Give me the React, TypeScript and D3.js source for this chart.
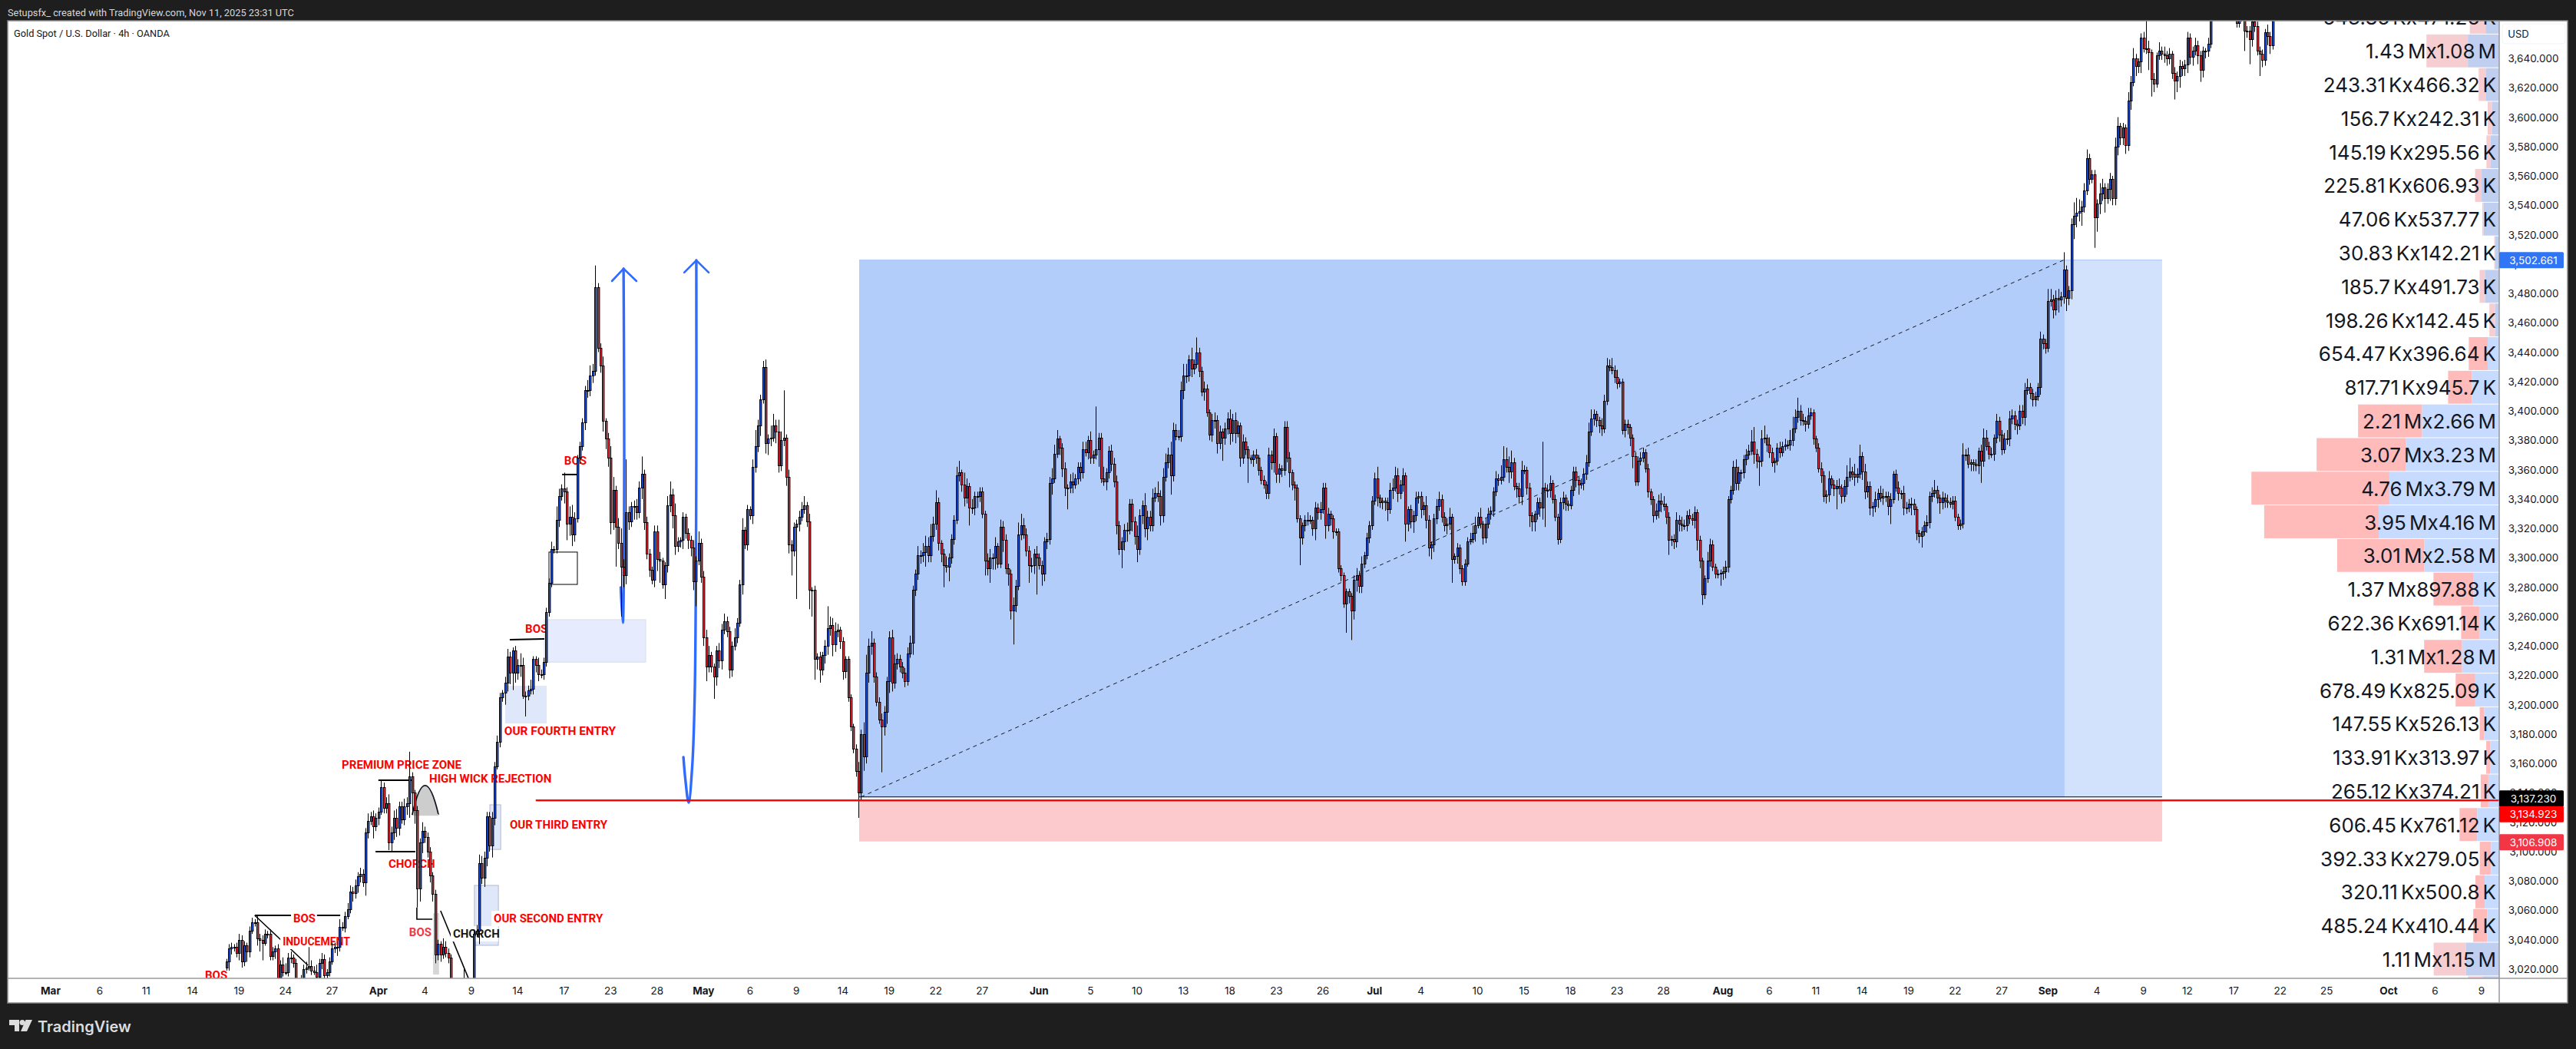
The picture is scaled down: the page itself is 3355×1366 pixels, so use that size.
import React from "react";
import * as d3 from "d3";

// gold 4h closes, bar 68 is the first one that shows above the chart bottom
const firstBar = 68;
const closes = [
  3025,3034,3035,3035,3031,3040,3025,3036,3032,3046,3052,3052,
  3041,3040,3038,3044,3044,3029,3032,3034,3014,3023,
  3018,3018,3028,3028,3024,3011,3010,3013,3020,3021,
  3022,3019,3018,3015,3024,3027,3016,3018,3025,3034,
  3035,3035,3049,3048,3056,3061,3073,3072,3077,3083,
  3085,3079,3113,3121,3124,3117,3123,3127,3144,3130,
  3133,3106,3113,3123,3116,3131,3122,3131,3133,3151,
  3140,3128,3075,3106,3114,3110,3100,3084,3071,3030,
  3037,3030,3035,3031,3028,3010,3000,2990,2985,2990,
  3000,2995,3005,3000,3044,3046,3092,3082,3096,3124,
  3104,3123,3158,3175,3205,3208,3215,3233,3222,3237,
  3222,3227,3227,3206,3206,3210,3211,3231,3227,3221,
  3221,3229,3263,3283,3306,3306,3326,3342,3347,3345,
  3323,3328,3316,3327,3368,3376,3392,3414,3414,3424,
  3427,3484,3443,3431,3393,3381,3368,3324,3346,3321,
  3310,3294,3288,3331,3325,3335,3335,3331,3348,3357,
  3324,3303,3292,3285,3318,3299,3298,3282,3295,3336,
  3343,3329,3308,3311,3312,3328,3317,3312,3307,3284,
  3298,3310,3287,3246,3226,3234,3226,3219,3237,3230,
  3251,3257,3250,3224,3240,3246,3256,3282,3319,3309,
  3333,3329,3362,3376,3390,3408,3430,3378,3381,3382,
  3390,3386,3363,3380,3382,3355,3309,3305,3321,3323,
  3328,3333,3336,3325,3278,3278,3231,3233,3224,3234,
  3240,3252,3254,3241,3250,3251,3243,3223,3231,3205,
  3185,3170,3155,3140,3180,3165,3222,3240,3242,3219,
  3202,3190,3185,3195,3216,3246,3215,3228,3231,3226,
  3222,3216,3235,3242,3278,3289,3302,3302,3304,3308,
  3302,3315,3323,3338,3310,3303,3295,3294,3300,3313,
  3326,3356,3358,3350,3341,3349,3334,3334,3342,3342,
  3345,3330,3298,3293,3300,3300,3308,3296,3321,3312,
  3293,3289,3264,3268,3281,3316,3322,3316,3305,3295,
  3295,3303,3300,3295,3289,3311,3313,3351,3354,3371,
  3381,3375,3361,3348,3348,3352,3350,3354,3362,3358,
  3374,3372,3380,3368,3370,3374,3382,3354,3352,3358,
  3373,3364,3352,3322,3306,3311,3319,3319,3337,3325,
  3315,3306,3329,3336,3320,3328,3322,3341,3344,3342,
  3329,3355,3365,3370,3356,3387,3383,3383,3414,3424,
  3424,3435,3429,3432,3440,3427,3413,3415,3399,3384,
  3394,3394,3378,3386,3382,3388,3395,3385,3394,3385,
  3390,3368,3379,3374,3368,3367,3370,3368,3360,3353,
  3350,3344,3370,3365,3383,3357,3361,3360,3389,3368,
  3358,3350,3348,3327,3314,3322,3326,3326,3326,3320,
  3334,3331,3333,3348,3322,3330,3327,3318,3318,3293,
  3288,3269,3277,3274,3264,3285,3288,3281,3296,3302,
  3314,3322,3339,3354,3341,3338,3339,3338,3333,3346,
  3348,3356,3344,3350,3356,3323,3333,3325,3329,3341,
  3342,3333,3336,3326,3307,3309,3327,3335,3340,3328,
  3322,3323,3328,3299,3301,3307,3293,3284,3296,3311,
  3313,3317,3322,3328,3323,3314,3323,3330,3332,3345,
  3354,3353,3355,3367,3362,3359,3365,3349,3347,3342,
  3360,3360,3348,3329,3325,3330,3338,3334,3348,3346,
  3346,3351,3340,3328,3313,3338,3341,3337,3336,3346,
  3359,3353,3350,3351,3357,3365,3386,3395,3398,3394,
  3390,3388,3407,3431,3430,3428,3423,3419,3420,3387,
  3391,3389,3382,3369,3352,3366,3368,3372,3361,3345,
  3340,3329,3332,3339,3337,3335,3328,3312,3313,3311,
  3326,3323,3322,3322,3329,3327,3326,3331,3312,3298,
  3275,3286,3298,3309,3294,3289,3289,3290,3291,3294,
  3340,3346,3362,3351,3358,3358,3367,3370,3373,3379,
  3371,3366,3366,3381,3382,3377,3372,3365,3366,3375,
  3372,3376,3377,3377,3380,3388,3396,3400,3394,3393,
  3391,3397,3399,3381,3375,3361,3356,3342,3343,3354,
  3350,3347,3349,3348,3342,3349,3355,3359,3357,3355,
  3357,3369,3359,3345,3349,3334,3335,3340,3344,3341,
  3342,3342,3335,3340,3357,3348,3344,3344,3334,3334,
  3337,3337,3333,3317,3315,3318,3322,3324,3342,3344,
  3346,3341,3338,3341,3339,3338,3337,3339,3328,3322,
  3323,3370,3370,3364,3365,3364,3363,3373,3366,3382,
  3376,3371,3371,3382,3393,3384,3374,3381,3381,3395,
  3397,3391,3390,3400,3396,3414,3416,3412,3408,3410,
  3416,3449,3446,3443,3475,3476,3469,3477,3476,3478,
  3496,3477,3482,3527,3533,3535,3536,3539,3550,3572,
  3558,3561,3532,3541,3548,3552,3545,3551,3558,3545,
  3580,3594,3586,3593,3581,3611,3624,3640,3635,3638,
  3654,3647,3647,3644,3626,3623,3642,3645,3643,3642,
  3640,3643,3630,3625,3628,3635,3633,3636,3654,3641,
  3645,3649,3642,3632,3645,3645,3650,3680,3685,3690,
  3695,3685,3680,3690,3680,3675,3672,3664,3670,3668,
  3659,3659,3653,3665,3662,3645,3643,3639,3658,3655,3649,3680,
];

// wick lengths in dollars, same order as closes
const upperWicks = [
  2,3,3,2,3,4,3,3,2,3,3,2,
  4,3,3,3,2,3,3,2,3,3,
  5,6,3,4,2,3,2,3,3,4,
  13,4,3,5,3,4,3,2,3,4,
  3,4,5,3,3,4,4,3,4,3,
  4,3,3,5,3,4,3,3,5,3,
  4,6,4,5,6,3,3,5,4,17,
  3,2,3,3,6,3,3,3,2,3,
  3,2,6,4,3,2,3,2,3,3,
  20,5,8,5,3,4,6,5,4,3,
  3,4,3,4,3,2,4,5,3,2,
  3,4,8,5,3,3,6,2,2,5,
  3,3,3,3,5,2,9,5,3,11,
  3,7,8,4,2,3,3,3,7,7,
  5,15,3,3,6,2,4,8,9,3,
  6,10,5,36,4,3,4,5,4,12,
  3,4,3,2,4,4,5,2,2,6,
  9,4,8,3,2,3,2,3,3,5,
  3,8,3,4,5,6,2,2,3,5,
  4,5,3,3,3,6,3,3,8,2,
  3,2,5,11,4,3,4,5,3,8,
  8,4,8,6,32,2,5,3,3,3,
  4,5,6,2,5,2,3,2,3,2,
  4,15,6,5,6,4,2,3,2,2,
  2,2,3,6,3,8,12,5,8,3,
  3,3,4,4,3,4,5,6,4,3,
  3,3,4,5,3,3,6,3,6,7,
  6,8,5,8,3,2,3,6,3,3,
  3,6,8,2,8,5,2,6,3,3,
  3,3,2,5,6,3,6,2,5,4,
  4,3,3,5,4,8,8,5,4,3,
  5,3,5,3,3,3,4,4,7,6,
  6,2,3,4,2,5,6,3,3,3,
  5,5,3,6,3,29,3,3,8,3,
  3,4,4,4,3,3,4,5,3,3,
  3,7,4,3,8,4,4,6,4,8,
  4,6,6,5,9,5,4,4,6,8,
  8,3,8,3,10,3,3,5,3,2,
  4,5,3,4,2,4,4,6,4,5,
  3,2,5,3,2,2,3,4,2,2,
  3,2,5,3,5,2,3,2,4,4,
  4,2,2,2,2,2,3,5,3,2,
  4,3,5,3,3,4,2,2,2,2,
  2,2,2,2,2,3,5,3,5,2,
  3,3,3,4,8,2,2,2,3,5,
  6,6,5,3,5,2,2,3,3,4,
  3,3,2,6,3,2,3,5,5,3,
  3,4,6,2,2,3,2,2,3,3,
  4,5,6,3,6,2,4,4,3,3,
  5,3,8,9,8,7,8,3,2,4,
  6,3,2,3,2,2,3,3,31,3,
  4,5,2,3,2,3,4,2,2,3,
  3,3,2,3,4,5,6,6,3,2,
  2,5,4,5,4,6,3,5,2,2,
  3,3,2,2,3,3,4,3,2,3,
  2,2,5,4,5,5,2,3,2,3,
  5,3,5,4,3,4,3,4,2,3,
  2,2,6,4,3,2,3,2,3,4,
  2,3,4,5,4,2,3,4,4,8,
  10,3,3,6,8,2,5,3,2,3,
  4,3,4,3,7,8,5,9,4,4,
  3,5,3,2,2,3,4,3,3,5,
  2,3,4,5,2,4,8,9,3,7,
  4,8,3,5,3,3,3,5,3,5,
  5,3,3,4,2,3,4,2,5,4,
  3,4,3,2,2,3,3,5,3,4,
  7,3,2,4,3,4,3,3,3,2,
  3,8,4,5,2,2,3,2,4,6,
  5,3,4,2,5,3,3,4,6,5,
  4,3,3,4,4,5,6,3,3,3,
  3,5,3,3,8,7,3,5,6,3,
  12,3,3,4,9,10,8,4,5,6,
  3,3,3,3,7,6,3,4,4,2,
  6,6,2,3,2,6,4,7,3,2,
  3,4,25,5,2,4,2,6,3,5,
  3,4,2,4,3,4,3,3,4,3,
  3,5,3,3,3,2,4,5,3,3,
  3,3,3,3,3,3,3,5,3,3,
  3,3,3,3,5,3,3,3,2,5,3,3,
];

const lowerWicks = [
  2,6,4,3,3,5,4,3,7,4,2,3,
  5,8,12,2,3,3,3,5,2,4,
  3,2,3,4,3,3,2,2,2,3,
  2,3,2,2,3,4,4,3,3,2,
  3,6,3,2,3,2,3,6,4,5,
  4,3,9,4,3,8,3,5,2,4,
  4,5,6,5,6,5,3,4,6,10,
  15,9,13,9,7,4,4,5,5,6,
  4,5,3,3,4,3,3,2,2,2,
  3,3,3,3,3,2,9,4,6,6,
  4,8,5,2,4,3,8,6,8,12,
  7,5,8,2,14,3,3,4,5,5,
  3,4,3,3,3,3,3,5,3,8,
  11,8,8,5,3,4,3,5,5,4,
  5,3,3,5,7,7,6,8,5,27,
  4,34,8,6,6,4,9,5,4,8,
  5,4,5,3,5,8,15,3,10,5,
  5,9,6,4,4,6,4,6,6,6,
  17,3,4,6,10,4,4,15,6,5,
  6,3,4,6,5,3,4,3,7,3,
  4,3,6,4,4,7,3,7,8,5,
  3,8,5,4,4,6,6,17,4,49,
  5,3,3,4,13,18,14,7,9,4,
  6,6,5,8,5,4,5,6,5,3,
  3,3,4,17,5,10,5,7,6,4,
  3,3,31,6,8,8,6,4,4,4,
  4,4,3,3,8,4,4,6,5,10,
  5,5,4,4,5,6,15,4,10,4,
  4,3,4,5,6,4,12,4,5,8,
  4,3,10,5,10,8,8,3,3,8,
  4,8,6,23,5,3,4,3,4,12,
  5,6,25,3,8,5,5,4,8,3,
  3,5,6,6,15,4,6,3,4,6,
  4,3,5,4,4,3,12,3,3,6,
  4,5,4,6,4,13,6,8,3,7,
  6,9,4,6,6,8,4,4,3,4,
  7,5,3,4,13,4,3,3,4,6,
  5,4,6,4,3,4,3,6,3,4,
  5,6,7,4,16,5,4,8,6,7,
  3,6,4,4,17,3,5,4,4,3,
  3,4,4,5,7,6,6,5,4,3,
  10,4,9,3,19,5,4,4,3,5,
  8,5,5,3,9,4,5,5,3,3,
  4,3,20,5,20,6,8,5,5,3,
  3,4,3,3,6,4,5,6,8,3,
  6,3,6,4,5,12,5,5,8,4,
  4,6,4,6,6,8,5,4,3,4,
  4,6,4,16,3,5,4,3,3,2,
  2,3,6,2,3,5,4,3,4,4,
  3,4,3,3,4,8,5,3,6,5,
  6,3,5,8,7,7,4,6,8,25,
  5,5,3,3,4,3,5,5,4,3,
  4,5,7,3,5,4,3,3,5,5,
  5,5,3,3,3,3,4,4,3,3,
  5,5,6,8,3,3,3,3,3,4,
  4,5,3,5,6,3,5,10,4,5,
  4,5,4,3,4,4,4,6,7,5,
  7,3,3,4,3,3,3,8,5,5,
  4,3,3,5,5,6,4,4,3,3,
  7,5,17,4,3,5,4,3,7,3,
  4,3,3,3,4,4,3,4,4,3,
  5,3,3,4,3,3,5,4,5,5,
  3,5,14,5,5,4,6,3,4,6,
  4,3,6,5,4,5,6,4,6,3,
  5,4,6,12,3,3,5,4,5,4,
  3,8,4,5,5,8,3,5,4,4,
  3,4,8,5,5,4,3,4,3,3,
  3,3,4,3,5,5,4,6,15,4,
  3,4,3,5,4,5,4,3,4,5,
  4,4,6,3,5,6,3,4,5,5,
  3,5,4,4,3,4,6,4,9,5,
  5,9,5,6,10,8,6,10,4,3,
  4,3,21,10,7,5,10,4,8,5,
  5,6,5,5,6,4,6,3,7,5,
  8,3,4,12,12,6,3,3,4,5,
  5,4,4,13,8,8,5,5,6,5,
  6,3,6,8,5,5,4,3,3,3,
  3,3,3,3,3,3,3,3,3,3,
  14,5,17,5,4,3,15,5,4,6,6,3,
];

// date axis, bar number of each label
const dateLabels = ["Mar","6","11","14","19","24","27","Apr","4","9","14","17","23","28","May","6","9","14","19","22","27","Jun","5","10","13","18","23","26","Jul","4","10","15","18","23","28","Aug","6","11","14","19","22","27","Sep","4","9","12","17","22","25","Oct","6","9"];
const dateBars = [0,19,37,55,73,91,109,127,145,163,181,199,217,235,253,271,289,307,325,343,361,383,403,421,439,457,475,493,513,531,553,571,589,607,625,648,666,684,702,720,738,756,774,793,811,828,846,864,882,906,924,942];
const monthLabels = ["Mar","Apr","May","Jun","Jul","Aug","Sep","Oct"];

// volume profile, top row first, values in thousands
const sellVolumes = [543.85,1430,243.31,156.7,145.19,225.81,47.06,30.83,185.7,198.26,654.47,817.71,2210,3070,4760,3950,3010,1370,622.36,1310,678.49,147.55,133.91,265.12,606.45,392.33,320.11,485.24,1110,500];
const buyVolumes = [471.26,1080,466.32,242.31,295.56,606.93,537.77,142.21,491.73,142.45,396.64,945.7,2660,3230,3790,4160,2580,897.88,691.14,1280,825.09,526.13,313.97,374.21,761.12,279.05,500.8,410.44,1150,580];

// long position tool
const entryPrice = 3137.23;
const targetPrice = 3502.661;
const stopPrice = 3106.908;
const linePrice = 3134.923;

const zones = [
  { b0: 191.3, b1: 230.6, p0: 3257.9, p1: 3229, fill: "#e6ecfd", stroke: "#d9deea" },
  { b0: 176.1, b1: 192.2, p0: 3212.9, p1: 3187.3, fill: "#dfe7fb", stroke: "none" },
  { b0: 170.2, b1: 174.4, p0: 3131.9, p1: 3101.5, fill: "#dfe7fb", stroke: "#b5bac8" },
  { b0: 164.2, b1: 173.5, p0: 3077, p1: 3036.2, fill: "#dfe7fb", stroke: "#b5bac8" },
  { b0: 148.2, b1: 150.5, p0: 3058.1, p1: 3016.3, fill: "#d6d6d6", stroke: "none" },
];

const trendLines = [
  { pts: [[79.1, 3056.6], [112.2, 3056.6]], w: 2.2 },
  { pts: [[79.1, 3056.6], [99.7, 3022.6]], w: 1.6 },
  { pts: [[127, 3148.6], [140.1, 3148.6]], w: 2 },
  { pts: [[125.9, 3100], [141.3, 3100]], w: 2 },
  { pts: [[141.9, 3062], [141.9, 3054], [147.9, 3054]], w: 1.6 },
  { pts: [[151.1, 3059.7], [161.9, 3013.7]], w: 1.6 },
  { pts: [[177.9, 3244.3], [191.3, 3244.8]], w: 2 },
  { pts: [[198.2, 3356.7], [203.8, 3356.7]], w: 2 },
];

const notes = [
  { text: "BOS", b: 59.8, p: 3015.8, color: "#ff0000", size: 15, bg: false },
  { text: "BOS", b: 94, p: 3054.5, color: "#ff0000", size: 15, bg: true },
  { text: "INDUCEMENT", b: 89.9, p: 3038.8, color: "#ff0000", size: 14, bg: true },
  { text: "PREMIUM PRICE ZONE", b: 112.8, p: 3159, color: "#ff0000", size: 15, bg: false },
  { text: "HIGH WICK REJECTION", b: 146.7, p: 3149.6, color: "#ff0000", size: 15, bg: false },
  { text: "CHORCH", b: 130.9, p: 3091.6, color: "#ff0000", size: 15, bg: false },
  { text: "BOS", b: 138.9, p: 3045.1, color: "#f23645", size: 15, bg: false },
  { text: "CHORCH", b: 155.9, p: 3044, color: "#131722", size: 15, bg: true },
  { text: "OUR SECOND ENTRY", b: 171.7, p: 3054.5, color: "#ff0000", size: 15, bg: true },
  { text: "OUR THIRD ENTRY", b: 177.9, p: 3118.3, color: "#ff0000", size: 15, bg: false },
  { text: "OUR FOURTH ENTRY", b: 175.8, p: 3182.1, color: "#ff0000", size: 15.4, bg: false },
  { text: "BOS", b: 183.9, p: 3251.6, color: "#ff0000", size: 15, bg: false },
  { text: "BOS", b: 199, p: 3366.1, color: "#ff0000", size: 15, bg: false },
];

const arrowShafts = [
  [[220.9, 3279.8], [221.7, 3255.8], [222.2, 3313.8], [222.2, 3418.3], [222, 3496.8]],
  [[245.2, 3164.3], [245.9, 3150], [247.2, 3133.4], [248.6, 3157.7], [249.6, 3208.7], [250.2, 3366], [250.2, 3502.5]],
];
const arrowHeads = [
  [[217.5, 3488.4], [222, 3496.8], [227, 3488.4]],
  [[245.5, 3494.2], [250.2, 3502.5], [255, 3494.2]],
];

const W = 3355;
const H = 1366;
const chartLeft = 10;
const chartTop = 27;
const chartRight = 3255;
const chartBottom = 1274;
const panelRight = 3344;
const axisBottom = 1306;
const uiFont = "Inter, Roboto, sans-serif";
const noteFont = "Roboto, sans-serif";

const x = d3.scaleLinear().domain([0, 942]).range([66, 3232]);
const y = d3.scaleLinear().domain([3020, 3640]).range([1262, 76]);
const volumeWidth = d3.scaleLinear().domain([0, 1000]).range([0, 37.75]);
const rowBand = d3
  .scaleBand<number>()
  .domain(d3.range(sellVolumes.length))
  .range([1.05, 1.05 + 43.77 * sellVolumes.length])
  .paddingInner(0.022);

const polyline = d3
  .line<number[]>()
  .x((d) => x(d[0]))
  .y((d) => y(d[1]));
const smoothLine = d3
  .line<number[]>()
  .x((d) => x(d[0]))
  .y((d) => y(d[1]))
  .curve(d3.curveCatmullRom);

const fmtPrice = d3.format(",.3f");
const splitVolume = (v: number) =>
  v >= 1000 ? [String(+(v / 1000).toFixed(2)), "M"] : [String(+v.toFixed(2)), "K"];

// the gray wick rejection cap
const capPath = () => {
  const p = d3.path();
  p.moveTo(x(140.1), y(3125));
  p.quadraticCurveTo(x(145), y(3165), x(150.3), y(3125));
  return p.toString();
};

const priceLabels = [
  { price: targetPrice, dy: 0, fill: "#2f75f5" },
  { price: entryPrice, dy: 2, fill: "#000000" },
  { price: linePrice, dy: 18, fill: "#ff0000" },
  { price: stopPrice, dy: 1, fill: "#f23645" },
];

const Candles = () => (
  <g>
    {closes.map((c, i) => {
      const open = i === 0 ? c - 4 : closes[i - 1];
      const top = Math.max(open, c);
      const bottom = Math.min(open, c);
      const bx = Math.round(x(firstBar + i));
      const yt = Math.round(y(top));
      const yb = Math.round(y(bottom));
      return (
        <g key={i}>
          <line
            x1={bx + 0.5}
            x2={bx + 0.5}
            y1={y(top + (upperWicks[i] ?? 3))}
            y2={y(bottom - (lowerWicks[i] ?? 3))}
            stroke="#000"
            strokeWidth={1}
          />
          <rect
            x={bx - 0.5}
            y={yt + 0.5}
            width={2.4}
            height={Math.max(yb - yt, 1)}
            fill={c >= open ? "#1a4fd6" : "#e8303c"}
            stroke="#000"
            strokeWidth={1}
          />
        </g>
      );
    })}
  </g>
);

export default function App() {
  const rowHeight = rowBand.bandwidth();
  return (
    <svg
      width={W}
      height={H}
      viewBox={`0 0 ${W} ${H}`}
      style={{ position: "absolute", left: 0, top: 0, display: "block" }}
    >
      <defs>
        <clipPath id="plot">
          <rect x={chartLeft} y={chartTop} width={chartRight - chartLeft} height={chartBottom - chartTop} />
        </clipPath>
      </defs>
      <rect width={W} height={H} fill="#1e1e1e" />
      <rect x={chartLeft} y={chartTop} width={panelRight - chartLeft} height={axisBottom - chartTop} fill="#ffffff" />

      <text x={10} y={16} dominantBaseline="central" fontFamily={noteFont} fontSize={12.8} fill="#d6d6d6">
        Setupsfx_ created with TradingView.com, Nov 11, 2025 23:31 UTC
      </text>

      <g clipPath="url(#plot)">
        {/* position tool */}
        <rect x={x(313.3)} y={y(targetPrice)} width={x(818.2) - x(313.3)} height={y(entryPrice) - y(targetPrice)} fill="#d2e2fc" />
        <rect x={x(313.3)} y={y(targetPrice)} width={x(780.4) - x(313.3)} height={y(entryPrice) - y(targetPrice)} fill="#b2cdf9" />
        <line x1={x(313.3)} x2={x(818.2)} y1={y(targetPrice)} y2={y(targetPrice)} stroke="#a5c3f5" strokeWidth={1} />
        <rect x={x(313.3)} y={y(linePrice)} width={x(818.2) - x(313.3)} height={y(stopPrice) - y(linePrice)} fill="#fcc9cc" />
        <line x1={x(313.3)} x2={x(818.2)} y1={y(entryPrice)} y2={y(entryPrice)} stroke="#000" strokeWidth={1} />
        <line
          x1={x(314)}
          x2={x(780)}
          y1={y(entryPrice)}
          y2={y(targetPrice)}
          stroke="#131722"
          strokeWidth={1}
          strokeDasharray="5 5"
        />

        {zones.map((z, i) => (
          <rect
            key={i}
            x={x(z.b0)}
            y={y(z.p0)}
            width={x(z.b1) - x(z.b0)}
            height={y(z.p1) - y(z.p0)}
            fill={z.fill}
            stroke={z.stroke}
            strokeWidth={1}
          />
        ))}
        <rect x={x(193.1)} y={y(3303.9)} width={x(204.1) - x(193.1)} height={y(3281.9) - y(3303.9)} fill="none" stroke="#000" strokeWidth={1} />

        {arrowShafts.map((pts, i) => (
          <path key={i} d={smoothLine(pts) ?? ""} fill="none" stroke="#2f6bff" strokeWidth={3.4} strokeLinecap="round" />
        ))}
        {arrowHeads.map((pts, i) => (
          <path key={i} d={polyline(pts) ?? ""} fill="none" stroke="#2f6bff" strokeWidth={2.6} strokeLinecap="round" />
        ))}

        <line x1={x(188)} x2={chartRight} y1={y(linePrice)} y2={y(linePrice)} stroke="#ff0000" strokeWidth={2} />

        <path d={capPath()} fill="#cdcdcd" stroke="#131722" strokeWidth={1.8} />
        <path d={`M${x(140.1)},${y(3125)}H${x(150.3)}`} stroke="#cdcdcd" strokeWidth={2.2} />

        {trendLines.map((l, i) => (
          <path key={i} d={polyline(l.pts) ?? ""} fill="none" stroke="#000" strokeWidth={l.w} />
        ))}

        {notes.map((n, i) => (
          <g key={i}>
            {n.bg && (
              <rect
                x={x(n.b) - 3}
                y={y(n.p) - 10}
                width={n.text.length * n.size * 0.62 + 6}
                height={20}
                fill="#ffffff"
              />
            )}
            <text
              x={x(n.b)}
              y={y(n.p)}
              dominantBaseline="central"
              fontFamily={noteFont}
              fontWeight={700}
              fontSize={n.size}
              fill={n.color}
            >
              {n.text}
            </text>
          </g>
        ))}

        <Candles />

        {/* volume profile */}
        {sellVolumes.map((sell, i) => {
          const buy = buyVolumes[i];
          const muted = i < 10 || i > 27;
          const top = rowBand(i) as number;
          const blueW = volumeWidth(buy);
          const redW = volumeWidth(sell);
          const [sv, su] = splitVolume(sell);
          const [bv, bu] = splitVolume(buy);
          return (
            <g key={i}>
              <rect x={chartRight - blueW - redW} y={top} width={redW} height={rowHeight} fill={muted ? "#f6ced1" : "#ffbaba"} />
              <rect x={chartRight - blueW} y={top} width={blueW} height={rowHeight} fill={muted ? "#c0cef0" : "#c7daff"} />
              {i < 29 && (
                <text
                  x={3251}
                  y={top + rowHeight / 2}
                  dominantBaseline="central"
                  textAnchor="end"
                  fontFamily={uiFont}
                  fontSize={26}
                  fill="#131722"
                >
                  <tspan>{sv}</tspan>
                  <tspan dx={4}>{su}</tspan>
                  <tspan>x{bv}</tspan>
                  <tspan dx={4}>{bu}</tspan>
                </text>
              )}
            </g>
          );
        })}
        <line x1={x(188)} x2={chartRight} y1={y(linePrice)} y2={y(linePrice)} stroke="#ff0000" strokeWidth={2} />
      </g>

      <text x={18} y={43} dominantBaseline="central" fontFamily={noteFont} fontSize={12.8} fill="#131722">
        Gold Spot / U.S. Dollar · 4h · OANDA
      </text>

      {/* frame */}
      <rect x={chartLeft} y={chartTop} width={panelRight - chartLeft} height={axisBottom - chartTop} fill="none" stroke="#8a8a8a" strokeWidth={1.5} />
      <line x1={chartRight} x2={chartRight} y1={chartTop} y2={axisBottom} stroke="#9598a1" strokeWidth={1.5} />
      <line x1={chartLeft} x2={panelRight} y1={chartBottom} y2={chartBottom} stroke="#9a9a9a" strokeWidth={1.5} />

      {/* price axis */}
      {d3.range(3020, 3641, 20).map((t) => (
        <text key={t} x={3299.5} y={y(t)} dominantBaseline="central" textAnchor="middle" fontFamily={uiFont} fontSize={13.5} fill="#131722">
          {fmtPrice(t)}
        </text>
      ))}
      <rect x={3259} y={31} width={82} height={26} rx={4} fill="#ffffff" stroke="#f0f3fa" strokeWidth={1} />
      <text x={3280} y={44} dominantBaseline="central" textAnchor="middle" fontFamily={uiFont} fontSize={13} fill="#131722">
        USD
      </text>
      {priceLabels.map((l) => (
        <g key={l.price}>
          <rect x={chartRight} y={y(l.price) + l.dy - 10.5} width={84} height={21} rx={1.5} fill={l.fill} />
          <text
            x={3299.5}
            y={y(l.price) + l.dy}
            dominantBaseline="central"
            textAnchor="middle"
            fontFamily={uiFont}
            fontSize={13.5}
            fill="#ffffff"
          >
            {fmtPrice(l.price)}
          </text>
        </g>
      ))}

      {/* date axis */}
      {dateLabels.map((d, i) => (
        <text
          key={i}
          x={x(dateBars[i])}
          y={1290}
          dominantBaseline="central"
          textAnchor="middle"
          fontFamily={uiFont}
          fontSize={13.5}
          fontWeight={monthLabels.includes(d) ? 700 : 400}
          fill="#131722"
        >
          {d}
        </text>
      ))}

      {/* TradingView mark */}
      <path d="M12 1328H25V1343H19V1335H12Z" fill="#dcdcdc" />
      <circle cx={29} cy={1331.5} r={3.5} fill="#dcdcdc" />
      <path d="M33.5 1328H42L35 1343H27Z" fill="#dcdcdc" />
      <text x={49} y={1337} dominantBaseline="central" fontFamily={uiFont} fontWeight={600} fontSize={20} fill="#dcdcdc">
        TradingView
      </text>
    </svg>
  );
}
